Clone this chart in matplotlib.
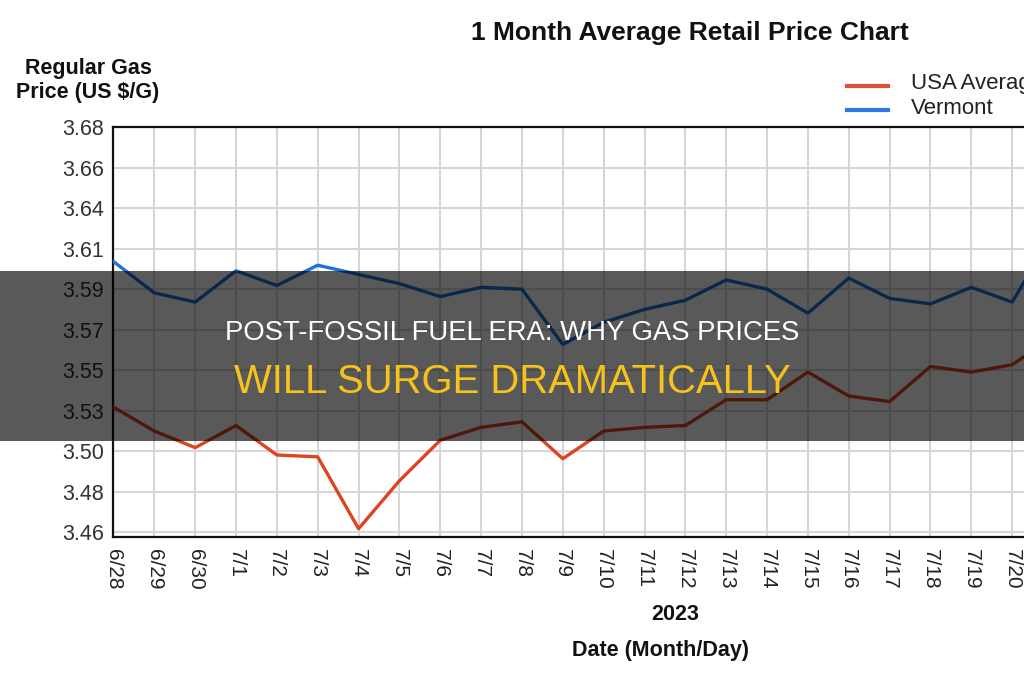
import numpy as np
import matplotlib
matplotlib.use("Agg")
import matplotlib.pyplot as plt
from matplotlib.patches import Rectangle
from matplotlib.lines import Line2D

# data (6/28 .. 7/21, last day clipped by the right edge)
dates = ["6/28", "6/29", "6/30", "7/1", "7/2", "7/3", "7/4", "7/5", "7/6", "7/7", "7/8",
         "7/9", "7/10", "7/11", "7/12", "7/13", "7/14", "7/15", "7/16", "7/17", "7/18",
         "7/19", "7/20", "7/21"]
vermont = [3.607, 3.590, 3.585, 3.602, 3.594, 3.605, 3.600, 3.595, 3.588, 3.593, 3.592,
           3.562, 3.574, 3.581, 3.586, 3.597, 3.592, 3.579, 3.598, 3.587, 3.584,
           3.593, 3.585, 3.622]
usa_avg = [3.528, 3.515, 3.506, 3.518, 3.502, 3.501, 3.462, 3.488, 3.510, 3.517, 3.520,
           3.500, 3.515, 3.517, 3.518, 3.532, 3.532, 3.547, 3.534, 3.531, 3.550,
           3.547, 3.551, 3.566]
ytick_vals = [3.46, 3.482, 3.504, 3.526, 3.548, 3.57, 3.592, 3.614, 3.636, 3.658, 3.68]
ytick_labels = ["3.46", "3.48", "3.50", "3.53", "3.55", "3.57", "3.59", "3.61", "3.64", "3.66", "3.68"]

plt.rcParams['font.family'] = ['Liberation Sans', 'DejaVu Sans']

fig = plt.figure(figsize=(10.24, 6.8), dpi=100)
ax = fig.add_axes([0.1108, 0.2103, 0.8892, 0.6029])

x = np.arange(len(dates))
ax.plot(x, usa_avg, color='#dd4422', lw=2.4, zorder=3)
ax.plot(x, vermont, color='#1f72d8', lw=2.4, zorder=3)

ax.set_xlim(0, 22.29)
ax.set_ylim(3.4575, 3.68)
ax.set_xticks(x[:-1])
ax.set_xticklabels(dates[:-1], rotation=270, fontsize=15, color='#222222')
ax.set_yticks(ytick_vals)
ax.set_yticklabels(ytick_labels, fontsize=15.5, color='#333333')
ax.tick_params(length=0, pad=7)
ax.tick_params(axis='x', pad=9)
ax.grid(True, color='#d6d6d6', lw=1.5)
ax.set_axisbelow(True)
for s in ['left', 'top', 'bottom']:
    ax.spines[s].set_linewidth(1.6)
    ax.spines[s].set_color('#111111')
ax.spines['right'].set_visible(False)

fig.text(0.674, 0.951, "1 Month Average Retail Price Chart", fontsize=19, fontweight='bold',
         ha='center', va='center', color='#111111')
fig.text(0.086, 0.882, "Regular Gas\nPrice (US $/G)", fontsize=15.5, fontweight='bold',
         ha='center', va='center', color='#111111', linespacing=1.2)
fig.text(0.659, 0.096, "2023", fontsize=15.5, fontweight='bold', ha='center', va='center', color='#111111')
fig.text(0.645, 0.044, "Date (Month/Day)", fontsize=15.5, fontweight='bold', ha='center', va='center',
         color='#111111')

# legend drawn by hand, clipped by the right edge like the original
fig.add_artist(Line2D([0.827, 0.867], [0.874, 0.874], color='#d9533a', lw=3))
fig.add_artist(Line2D([0.827, 0.867], [0.838, 0.838], color='#2a7ae2', lw=3))
fig.text(0.890, 0.877, "USA Average", fontsize=16, ha='left', va='center', color='#222222')
fig.text(0.890, 0.840, "Vermont", fontsize=16, ha='left', va='center', color='#222222')

# dark banner with headline
fig.add_artist(Rectangle((0, 0.3515), 1, 0.25, transform=fig.transFigure,
                         facecolor='black', alpha=0.65, edgecolor='none', zorder=5))
fig.text(0.5, 0.5103, "POST-FOSSIL FUEL ERA: WHY GAS PRICES", fontsize=19.8, color='white',
         ha='center', va='center', zorder=6)
fig.text(0.5, 0.4382, "WILL SURGE DRAMATICALLY", fontsize=28.8, color='#f6c31c',
         ha='center', va='center', zorder=6)

fig.savefig("out.png", dpi=100)
